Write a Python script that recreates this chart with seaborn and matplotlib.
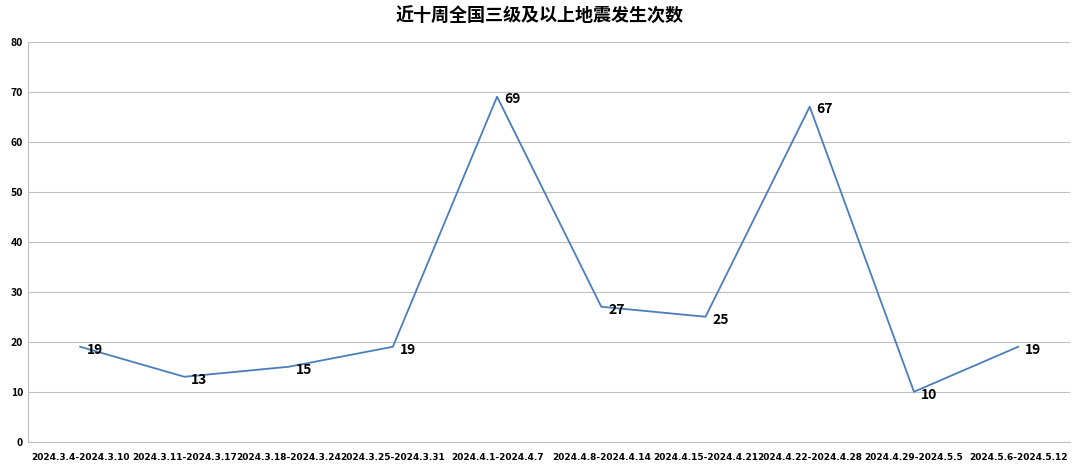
import matplotlib
matplotlib.use("Agg")
import matplotlib.pyplot as plt
import seaborn as sns
import pandas as pd

weeks = [
    "2024.3.4-2024.3.10", "2024.3.11-2024.3.17", "2024.3.18-2024.3.24",
    "2024.3.25-2024.3.31", "2024.4.1-2024.4.7", "2024.4.8-2024.4.14",
    "2024.4.15-2024.4.21", "2024.4.22-2024.4.28", "2024.4.29-2024.5.5",
    "2024.5.6-2024.5.12",
]
counts = [19, 13, 15, 19, 69, 27, 25, 67, 10, 19]
title = "近十周全国三级及以上地震发生次数"

df = pd.DataFrame({"week": weeks, "count": counts, "pos": range(len(weeks))})

plt.rcParams["font.family"] = ["Noto Sans CJK SC", "DejaVu Sans"]
fig = plt.figure(figsize=(10.8, 4.68), dpi=100)
ax = fig.add_axes([0.026, 0.056, 0.965, 0.855])

sns.lineplot(data=df, x="pos", y="count", color="#4A7EBB", linewidth=1.3, ax=ax)

for p, c in zip(df["pos"], df["count"]):
    ax.annotate(str(c), (p, c), xytext=(5, -2), textcoords="offset points",
                ha="left", va="center", fontsize=10, fontweight="bold")

ax.set_xlim(-0.5, len(weeks) - 0.5)
ax.set_ylim(0, 80)
ax.set_yticks(range(0, 81, 10))
ax.set_xticks(df["pos"])
ax.set_xticklabels(weeks, fontsize=6.5, fontweight="bold", family="DejaVu Sans")
ax.tick_params(axis="y", labelsize=7.5, length=0)
ax.tick_params(axis="x", length=0, pad=8)
for lbl in ax.get_yticklabels():
    lbl.set_fontweight("bold")
ax.grid(axis="y", color="#BFBFBF", linewidth=0.8)
ax.set_axisbelow(True)
for side in ["top", "right"]:
    ax.spines[side].set_visible(False)
ax.spines["left"].set_color("#BFBFBF")
ax.spines["bottom"].set_color("#BFBFBF")
ax.set_xlabel("")
ax.set_ylabel("")

fig.suptitle(title, y=0.985, fontsize=13, fontweight="bold")
fig.savefig("out.png", dpi=100)
